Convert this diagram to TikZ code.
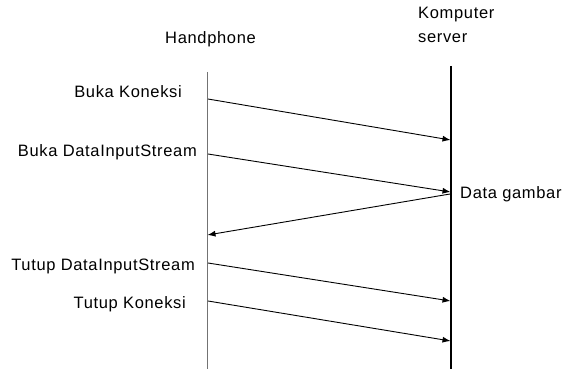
\documentclass[tikz,border=0pt]{standalone}
\usepackage{fontspec}
\setmainfont{Liberation Sans}[LetterSpace=4]
\usetikzlibrary{arrows.meta}
\begin{document}
\begin{tikzpicture}[x=1pt,y=-1pt,
  lbl/.style={inner sep=0pt,font=\fontsize{16.5}{18}\selectfont},
  msg/.style={line width=0.9pt,-{Latex[length=8pt,width=6pt]}},
  lifeL/.style={line width=0.7pt,draw=black!55},
  lifeR/.style={line width=1.2pt,draw=black}]
\useasboundingbox (0,0) rectangle (565,369);
% headers
\node[lbl,anchor=base west] (hp) at (165,44) {Handphone};
\node[lbl,anchor=base west] (ks1) at (418,19) {Komputer};
\node[lbl,anchor=base west] (ks2) at (418,43) {server};
% lifelines
\coordinate (Ltop) at (207,72);
\coordinate (Lbot) at (207,369);
\coordinate (Rtop) at (451,66);
\coordinate (Rbot) at (451,369);
\draw[lifeL] (Ltop) -- (Lbot);
\draw[lifeR] (Rtop) -- (Rbot);
% message endpoints
\coordinate (a1) at (208,99);  \coordinate (b1) at (450.5,140);
\coordinate (a2) at (208,154); \coordinate (b2) at (450.5,192);
\coordinate (b3) at (450,194); \coordinate (a3) at (207.5,235);
\coordinate (a4) at (208,263); \coordinate (b4) at (450.5,301);
\coordinate (a5) at (208,301); \coordinate (b5) at (450.5,341);
\draw[msg] (a1) -- (b1);
\draw[msg] (a2) -- (b2);
\draw[msg] (b3) -- (a3);
\draw[msg] (a4) -- (b4);
\draw[msg] (a5) -- (b5);
% labels
\node[lbl,anchor=base east] (l1) at (182,98) {Buka Koneksi};
\node[lbl,anchor=base east] (l2) at (197,156) {Buka DataInputStream};
\node[lbl,anchor=base west] (l3) at (460,198) {Data gambar};
\node[lbl,anchor=base east] (l4) at (195,270) {Tutup DataInputStream};
\node[lbl,anchor=base east] (l5) at (186,308) {Tutup Koneksi};
\end{tikzpicture}
\end{document}
